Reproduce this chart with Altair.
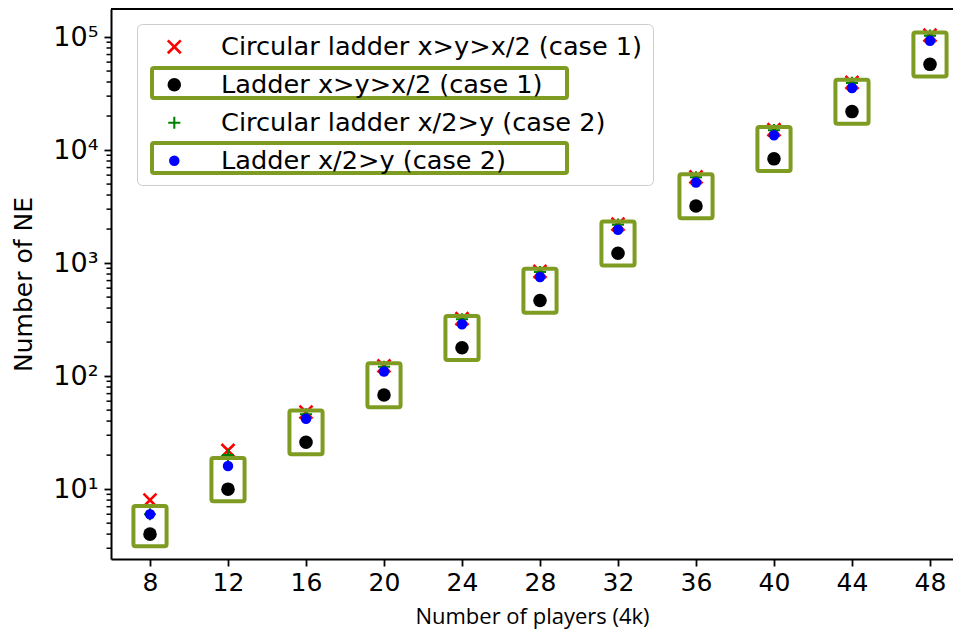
import altair as alt
import pandas as pd

# ---------------- data ----------------
players = [8, 12, 16, 20, 24, 28, 32, 36, 40, 44, 48]
circ_case1 = [8, 22, 48, 123, 322, 843, 2207, 5778, 15127, 39603, 103682]
ladder_case1 = [4, 10, 26, 68, 178, 466, 1220, 3194, 8362, 21892, 57314]
circ_case2 = [6, 20, 46, 121, 318, 835, 2190, 5740, 15000, 39300, 102900]
ladder_case2 = [6, 16, 42, 110, 288, 754, 1974, 5168, 13530, 35422, 92736]

series_names = [
    "Circular ladder x>y>x/2 (case 1)",
    "Ladder x>y>x/2 (case 1)",
    "Circular ladder x/2>y (case 2)",
    "Ladder x/2>y (case 2)",
]
series_colors = ["#ff0000", "#000000", "#008000", "#0000ff"]

x_ticks = [8, 12, 16, 20, 24, 28, 32, 36, 40, 44, 48]
y_major = [10, 100, 1000, 10000, 100000]
y_minor = [3, 4, 5, 6, 7, 8, 9,
           20, 30, 40, 50, 60, 70, 80, 90,
           200, 300, 400, 500, 600, 700, 800, 900,
           2000, 3000, 4000, 5000, 6000, 7000, 8000, 9000,
           20000, 30000, 40000, 50000, 60000, 70000, 80000, 90000]

# ---------------- layout ----------------
W, H = 842, 550
X_DOMAIN = [6, 49.18]
Y_DOMAIN = [2.41, 177000]
OLIVE = "#7f9c22"

# marker shapes (filled polygons in the [-1,1] box)
a = 0.25
xs = [(a, 0), (1, 1 - a), (1 - a, 1), (0, a), (-1 + a, 1), (-1, 1 - a), (-a, 0),
      (-1, -1 + a), (-1 + a, -1), (0, -a), (1 - a, -1), (1, -1 + a)]
t = 0.17
ps = [(t, -1), (t, -t), (1, -t), (1, t), (t, t), (t, 1), (-t, 1), (-t, t),
      (-1, t), (-1, -t), (-t, -t), (-t, -1)]


def poly(pts):
    return "M" + "L".join(f"{px:.3f},{py:.3f}" for px, py in pts) + "Z"


X_SHAPE = poly(xs)
PLUS_SHAPE = poly(ps)

rows = []
for name, vals in zip(series_names, [circ_case1, ladder_case1, circ_case2, ladder_case2]):
    for p, v in zip(players, vals):
        rows.append({"players": p, "ne": v, "series": name})
points_df = pd.DataFrame(rows)

box_df = pd.DataFrame({
    "players": players,
    "top": [v * 1.18 for v in ladder_case2],
    "bottom": [v / 1.28 for v in ladder_case1],
})
box_df["xlo"] = box_df["players"] - 0.85
box_df["xhi"] = box_df["players"] + 0.85

minor_df = pd.DataFrame({"v": y_minor})

xscale = alt.Scale(domain=X_DOMAIN, nice=False, zero=False)
yscale = alt.Scale(type="log", domain=Y_DOMAIN, nice=False)

label_expr = ("datum.value == 10 ? '10¹' : datum.value == 100 ? '10²' : "
              "datum.value == 1000 ? '10³' : datum.value == 10000 ? '10⁴' : '10⁵'")

x_axis = alt.Axis(values=x_ticks, title="Number of players (4k)", grid=False,
                  tickSize=7, tickWidth=1.8, domainWidth=2, domainColor="black",
                  tickColor="black", labelFont="DejaVu Sans", labelFontSize=25,
                  labelColor="black", labelPadding=4, titleFont="Open Sans",
                  titleFontSize=22, titleFontWeight="normal", titleColor="black",
                  titlePadding=11)
y_axis = alt.Axis(values=y_major, labelExpr=label_expr, title="Number of NE",
                  grid=False, tickSize=7, tickWidth=1.8, domainWidth=2,
                  domainColor="black", tickColor="black",
                  labelFont="DejaVu Sans", labelFontSize=27, labelColor="black",
                  labelPadding=6, titleFont="DejaVu Sans", titleFontSize=25,
                  titleFontWeight="normal", titleColor="black", titlePadding=16)

points = alt.Chart(points_df).mark_point(filled=True, opacity=1, strokeWidth=0).encode(
    x=alt.X("players:Q", scale=xscale, axis=x_axis),
    y=alt.Y("ne:Q", scale=yscale, axis=y_axis),
    color=alt.Color("series:N", scale=alt.Scale(domain=series_names, range=series_colors),
                    legend=alt.Legend(title=None, orient="none", legendX=26, legendY=15,
                                      padding=10, symbolOffset=14.5, labelOffset=34,
                                      rowPadding=11, labelFont="DejaVu Sans",
                                      labelFontSize=25.6, labelColor="black", labelLimit=0,
                                      symbolSize=170, strokeColor="#cccccc",
                                      cornerRadius=5, symbolStrokeWidth=0)),
    shape=alt.Shape("series:N", scale=alt.Scale(domain=series_names,
                                                 range=[X_SHAPE, "circle", PLUS_SHAPE, "circle"])),
    size=alt.Size("series:N", scale=alt.Scale(domain=series_names, range=[220, 110, 210, 110]),
                  legend=None),
)

boxes = alt.Chart(box_df).mark_rect(fillOpacity=0, stroke=OLIVE, strokeWidth=4,
                                    cornerRadius=2).encode(
    x=alt.X("xlo:Q", scale=xscale, axis=x_axis),
    x2="xhi:Q",
    y=alt.Y("top:Q", scale=yscale, axis=y_axis),
    y2="bottom:Q",
)

minor = alt.Chart(minor_df).mark_rule(color="black", strokeWidth=1.5).encode(
    y=alt.Y("v:Q", scale=yscale, axis=y_axis),
    x=alt.value(-4.5),
    x2=alt.value(0),
)

top_spine = alt.Chart(pd.DataFrame({"k": [0]})).mark_rule(color="black", strokeWidth=2).encode(
    x=alt.value(0), x2=alt.value(W), y=alt.value(0)
)

leg_box1 = alt.Chart(pd.DataFrame({"k": [0]})).mark_rect(
    fillOpacity=0, stroke=OLIVE, strokeWidth=4, cornerRadius=2).encode(
    x=alt.value(41), x2=alt.value(456), y=alt.value(59), y2=alt.value(89))
leg_box2 = alt.Chart(pd.DataFrame({"k": [0]})).mark_rect(
    fillOpacity=0, stroke=OLIVE, strokeWidth=4, cornerRadius=2).encode(
    x=alt.value(41), x2=alt.value(456), y=alt.value(134), y2=alt.value(164))

chart = alt.layer(points, boxes, minor, top_spine, leg_box1, leg_box2).properties(
    width=W, height=H,
    padding={"left": 103, "top": 1, "right": 0, "bottom": 70},
    autosize=alt.AutoSizeParams(type="none"),
).configure_view(stroke=None).configure(background="white")

chart.save("out.html", embed_options={"renderer": "svg", "actions": False})
